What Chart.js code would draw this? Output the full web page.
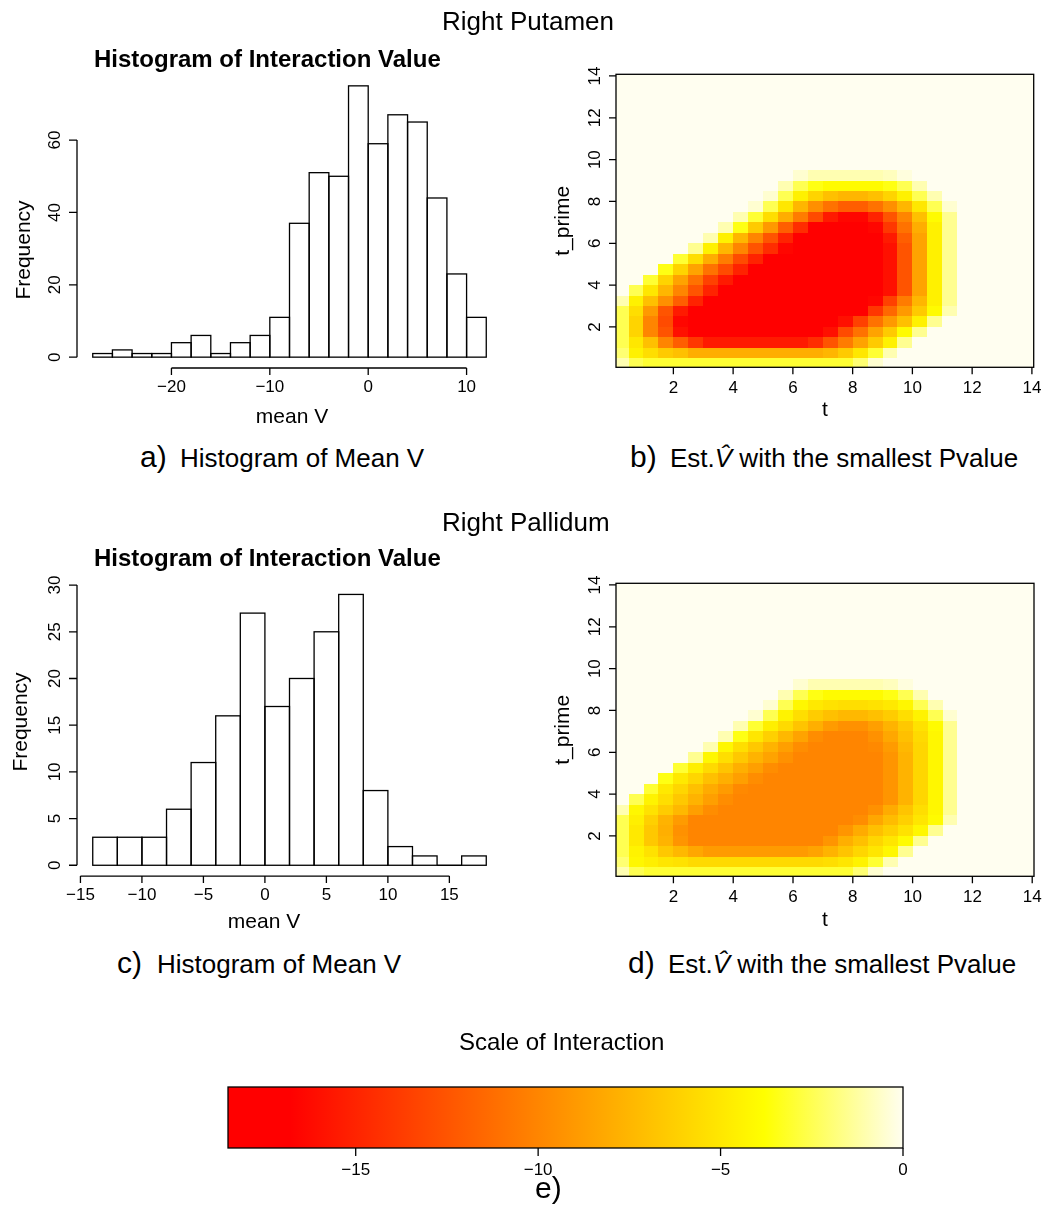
<!DOCTYPE html>
<html lang="en">
<head>
<meta charset="UTF-8" />
<title>Right Putamen / Right Pallidum</title>
<script src="https://cdn.jsdelivr.net/npm/chart.js"></script>
<style>
  body { margin: 0; background: #fff; font-family: 'Liberation Sans', Arial, sans-serif; color: #000; }
  #page { position: relative; width: 1051px; height: 1208px; overflow: hidden; background: #fff; }
  canvas { position: absolute; }
  .txt { position: absolute; white-space: nowrap; line-height: 1; }
</style>
</head>
<body>
<div id="page">
  <canvas id="histA" width="520" height="440" style="left:0;top:0"></canvas>
  <canvas id="heatB" width="531" height="440" style="left:520px;top:0"></canvas>
  <canvas id="histC" width="520" height="440" style="left:0;top:500px"></canvas>
  <canvas id="heatD" width="531" height="440" style="left:520px;top:500px"></canvas>
  <canvas id="scaleE" width="1051" height="208" style="left:0;top:1000px"></canvas>

  <div class="txt" style="left:442px;top:8px;font-size:26px">Right Putamen</div>
  <div class="txt" style="left:442px;top:509px;font-size:26px">Right Pallidum</div>

  <div class="txt" style="left:140px;top:442px;font-size:30px">a)</div>
  <div class="txt" style="left:180px;top:445px;font-size:26px">Histogram of Mean V</div>
  <div class="txt" style="left:630px;top:442px;font-size:30px">b)</div>
  <div class="txt" style="left:670px;top:445px;font-size:26px">Est.<i>V&#770;</i> with the smallest Pvalue</div>

  <div class="txt" style="left:117px;top:948px;font-size:30px">c)</div>
  <div class="txt" style="left:157px;top:951px;font-size:26px">Histogram of Mean V</div>
  <div class="txt" style="left:628px;top:948px;font-size:30px">d)</div>
  <div class="txt" style="left:668px;top:951px;font-size:26px">Est.<i>V&#770;</i> with the smallest Pvalue</div>

  <div class="txt" style="left:459px;top:1030px;font-size:24px">Scale of Interaction</div>
  <div class="txt" style="left:535px;top:1173px;font-size:30px">e)</div>
</div>

<script>
  // Right Putamen histogram (bin edges and counts)
  const breaksA = [-28, -26, -24, -22, -20, -18, -16, -14, -12, -10, -8, -6, -4, -2, 0, 2, 4, 6, 8, 10, 12];
  const countsA = [1, 2, 1, 1, 4, 6, 1, 4, 6, 11, 37, 51, 50, 75, 59, 67, 65, 44, 23, 11];
  const xTicksA = [-20, -10, 0, 10];
  const yTicksA = [0, 20, 40, 60];

  // Right Pallidum histogram
  const breaksC = [-14, -12, -10, -8, -6, -4, -2, 0, 2, 4, 6, 8, 10, 12, 14, 16, 18];
  const countsC = [3, 3, 3, 6, 11, 16, 27, 17, 20, 25, 29, 8, 2, 1, 0, 1];
  const xTicksC = [-15, -10, -5, 0, 5, 10, 15];
  const yTicksC = [0, 5, 10, 15, 20, 25, 30];

  // estimated V-hat surfaces, 0.5 x 0.5 cells, rows from t_prime = 0 upwards, columns from t = 0
  const heatTicks = [2, 4, 6, 8, 10, 12, 14];
  const cellSize = 0.5;
  const heatB = [
    [-1,-2.5,-3,-3,-3,-3,-3,-3,-3,-3,-3,-3,-3,-3,-3,-3,-2,-0.5,0,0,0,0,0,0],
    [-2,-4.5,-5.5,-6.5,-7,-8,-8,-8,-8,-8,-8,-8,-8,-8,-7.5,-6.5,-5,-3,-1,0,0,0,0,0],
    [-2.5,-5,-7,-10,-12,-14,-15.5,-15.5,-15.5,-15.5,-15.5,-15.5,-15.5,-14.5,-12.5,-10.5,-8.5,-6.5,-4.5,-1.5,0,0,0,0],
    [-2.5,-6,-10,-12.5,-16,-18,-18,-18,-18,-18,-18,-18,-18,-18,-16,-13,-11,-8.5,-6.5,-4,-1.5,0,0,0],
    [-2.5,-6,-10,-13,-16.5,-18,-18,-18,-18,-18,-18,-18,-18,-18,-18,-16,-13.5,-11,-9,-7,-4.5,-1.5,0,0],
    [-2.5,-5.5,-9,-12.5,-15.5,-18,-18,-18,-18,-18,-18,-18,-18,-18,-18,-18,-17,-14,-11.5,-9,-6.5,-4,-1,0],
    [-1,-4.5,-7,-9.5,-12,-15,-17,-18,-18,-18,-18,-18,-18,-18,-18,-18,-18,-16.5,-13.5,-10.5,-7.5,-4.5,-1.5,0],
    [0,-2.5,-5,-7.5,-10,-12.5,-15,-17,-18,-18,-18,-18,-18,-18,-18,-18,-18,-18,-16,-12.5,-8.5,-4.5,-1.5,0],
    [0,0,-3,-6,-8.5,-11,-13.5,-15.5,-17.5,-18,-18,-18,-18,-18,-18,-18,-18,-18,-16,-12.5,-8.5,-4.5,-1.5,0],
    [0,0,0,-3.5,-6,-8.5,-11,-13,-15,-17,-18,-18,-18,-18,-18,-18,-18,-18,-16,-12.5,-8.5,-4.5,-1.5,0],
    [0,0,0,0,-3,-5.5,-8,-10.5,-13,-15,-17,-18,-18,-18,-18,-18,-18,-18,-16,-12.5,-8.5,-4.5,-1.5,0],
    [0,0,0,0,0,-1.5,-4.5,-7.5,-10,-12.5,-14.5,-16.5,-18,-18,-18,-18,-18,-18,-16,-12.5,-8.5,-4.5,-1.5,0],
    [0,0,0,0,0,0,-1,-4.5,-7.5,-10,-12.5,-15,-17,-18,-18,-18,-18,-17.5,-15.5,-12,-8.5,-4.5,-1.5,0],
    [0,0,0,0,0,0,0,-1,-3.5,-6.5,-9,-12,-14.5,-17,-18,-18,-18,-16.5,-14,-11,-8,-4.5,-1.5,0],
    [0,0,0,0,0,0,0,0,-1,-3,-5.5,-8,-10.5,-13,-15.5,-16.5,-16.5,-15,-12.5,-10,-7,-4,-1.5,0],
    [0,0,0,0,0,0,0,0,0,-0.5,-2.5,-5,-7.5,-9.5,-11,-12,-12,-11,-9.5,-7.5,-5,-2.5,-0.5,0],
    [0,0,0,0,0,0,0,0,0,0,-0.5,-2.5,-4.5,-6,-7,-7.5,-7.5,-7,-6,-4.5,-2.5,-1,0,0],
    [0,0,0,0,0,0,0,0,0,0,0,-1,-2.5,-3.5,-4,-4,-4,-4,-3.5,-2.5,-1,0,0,0],
    [0,0,0,0,0,0,0,0,0,0,0,0,-0.5,-1,-1,-1,-1,-1,-0.8,-0.3,0,0,0,0]
  ];
  const heatD = [
    [-1,-2.5,-3,-3,-3,-3,-3,-3,-3,-3,-3,-3,-3,-3,-3,-3,-2,-0.5,0,0,0,0,0,0],
    [-2,-4.2,-4.6,-5.1,-5.3,-5.7,-5.7,-5.7,-5.7,-5.7,-5.7,-5.7,-5.7,-5.7,-5.5,-5.1,-4.4,-3,-1,0,0,0,0,0],
    [-2.5,-4.4,-5.3,-6.6,-7.4,-8.3,-8.9,-8.9,-8.9,-8.9,-8.9,-8.9,-8.9,-8.5,-7.7,-6.8,-5.9,-5.1,-4.2,-1.5,0,0,0,0],
    [-2.5,-4.9,-6.6,-7.7,-9.2,-10,-10,-10,-10,-10,-10,-10,-10,-10,-9.2,-7.9,-7,-5.9,-5.1,-4,-1.5,0,0,0],
    [-2.5,-4.9,-6.6,-7.9,-9.4,-10,-10,-10,-10,-10,-10,-10,-10,-10,-10,-9.2,-8.1,-7,-6.2,-5.3,-4.2,-1.5,0,0],
    [-2.5,-4.6,-6.2,-7.7,-8.9,-10,-10,-10,-10,-10,-10,-10,-10,-10,-10,-10,-9.6,-8.3,-7.2,-6.2,-5.1,-4,-1,0],
    [-1,-4.2,-5.3,-6.4,-7.4,-8.7,-9.6,-10,-10,-10,-10,-10,-10,-10,-10,-10,-10,-9.4,-8.1,-6.8,-5.5,-4.2,-1.5,0],
    [0,-2.5,-4.4,-5.5,-6.6,-7.7,-8.7,-9.6,-10,-10,-10,-10,-10,-10,-10,-10,-10,-10,-9.2,-7.7,-5.9,-4.2,-1.5,0],
    [0,0,-3,-4.9,-5.9,-7,-8.1,-8.9,-9.8,-10,-10,-10,-10,-10,-10,-10,-10,-10,-9.2,-7.7,-5.9,-4.2,-1.5,0],
    [0,0,0,-3.5,-4.9,-5.9,-7,-7.9,-8.7,-9.6,-10,-10,-10,-10,-10,-10,-10,-10,-9.2,-7.7,-5.9,-4.2,-1.5,0],
    [0,0,0,0,-3,-4.6,-5.7,-6.8,-7.9,-8.7,-9.6,-10,-10,-10,-10,-10,-10,-10,-9.2,-7.7,-5.9,-4.2,-1.5,0],
    [0,0,0,0,0,-1.5,-4.2,-5.5,-6.6,-7.7,-8.5,-9.4,-10,-10,-10,-10,-10,-10,-9.2,-7.7,-5.9,-4.2,-1.5,0],
    [0,0,0,0,0,0,-1,-4.2,-5.5,-6.6,-7.7,-8.7,-9.6,-10,-10,-10,-10,-9.8,-8.9,-7.4,-5.9,-4.2,-1.5,0],
    [0,0,0,0,0,0,0,-1,-3.5,-5.1,-6.2,-7.4,-8.5,-9.6,-10,-10,-10,-9.4,-8.3,-7,-5.7,-4.2,-1.5,0],
    [0,0,0,0,0,0,0,0,-1,-3,-4.6,-5.7,-6.8,-7.9,-8.9,-9.4,-9.4,-8.7,-7.7,-6.6,-5.3,-4,-1.5,0],
    [0,0,0,0,0,0,0,0,0,-0.5,-2.5,-4.4,-5.5,-6.4,-7,-7.4,-7.4,-7,-6.4,-5.5,-4.4,-2.5,-0.5,0],
    [0,0,0,0,0,0,0,0,0,0,-0.5,-2.5,-4.2,-4.9,-5.3,-5.5,-5.5,-5.3,-4.9,-4.2,-2.5,-1,0,0],
    [0,0,0,0,0,0,0,0,0,0,0,-1,-2.5,-3.5,-4,-4,-4,-4,-3.5,-2.5,-1,0,0,0],
    [0,0,0,0,0,0,0,0,0,0,0,0,-0.5,-1,-1,-1,-1,-1,-0.8,-0.3,0,0,0,0]
  ];

  // colour scale
  const scaleRange = [-18.5, 0];
  const scaleTicks = [-15, -10, -5, 0];
  const paletteStops = [[-16.8, [255, 0, 0]], [-3.8, [255, 255, 0]], [0, [255, 254, 240]]];

  const FONT = '"Liberation Sans", Arial, sans-serif';

  function rgb(c) { return 'rgb(' + c.map(Math.round).join(',') + ')'; }
  function heatColor(v) {
    const s = paletteStops;
    if (v <= s[0][0]) return rgb(s[0][1]);
    for (let k = 1; k < s.length; k++) {
      if (v <= s[k][0]) {
        const f = (v - s[k - 1][0]) / (s[k][0] - s[k - 1][0]);
        const a = s[k - 1][1], b = s[k][1];
        return rgb(a.map((c, i) => c + (b[i] - c) * f));
      }
    }
    return rgb(s[s.length - 1][1]);
  }
  const fmt = v => (v < 0 ? '\u2212' + Math.abs(v) : String(v));
  const setTicks = list => s => { s.ticks = list.map(v => ({ value: v })); };

  function rotText(ctx, text, x, y) {
    ctx.save(); ctx.translate(x, y); ctx.rotate(-Math.PI / 2); ctx.fillText(text, 0, 0); ctx.restore();
  }

  // R-like axes for the histograms
  function histPlugin(cfg) {
    return {
      id: 'histAxes',
      afterDatasetsDraw(chart) {
        const { ctx } = chart;
        ctx.save();
        ctx.strokeStyle = '#000'; ctx.lineWidth = 1.3;
        chart.getDatasetMeta(0).data.forEach(el => {
          const p = el.getProps(['x', 'y', 'base', 'width'], true);
          ctx.strokeRect(p.x - p.width / 2, p.y, p.width, p.base - p.y);
        });
        ctx.restore();
      },
      afterDraw(chart) {
        const { ctx, chartArea: a, scales: { x, y } } = chart;
        ctx.save();
        ctx.strokeStyle = '#000'; ctx.fillStyle = '#000'; ctx.lineWidth = 1.3;
        const xt = x.ticks.map(t => t.value), yt = y.ticks.map(t => t.value);
        ctx.beginPath();
        ctx.moveTo(x.getPixelForValue(xt[0]), a.bottom);
        ctx.lineTo(x.getPixelForValue(xt[xt.length - 1]), a.bottom);
        xt.forEach(v => { const p = x.getPixelForValue(v); ctx.moveTo(p, a.bottom); ctx.lineTo(p, a.bottom + 7); });
        ctx.moveTo(a.left, y.getPixelForValue(yt[0]));
        ctx.lineTo(a.left, y.getPixelForValue(yt[yt.length - 1]));
        yt.forEach(v => { const p = y.getPixelForValue(v); ctx.moveTo(a.left, p); ctx.lineTo(a.left - 8, p); });
        ctx.stroke();
        ctx.font = '17px ' + FONT; ctx.textAlign = 'center'; ctx.textBaseline = 'middle';
        xt.forEach(v => ctx.fillText(fmt(v), x.getPixelForValue(v), a.bottom + 19));
        yt.forEach(v => rotText(ctx, fmt(v), a.left - 22, y.getPixelForValue(v)));
        ctx.font = '21px ' + FONT;
        ctx.fillText('mean V', cfg.xlab[0], cfg.xlab[1]);
        rotText(ctx, 'Frequency', cfg.ylab[0], cfg.ylab[1]);
        ctx.font = 'bold 24px ' + FONT; ctx.textAlign = 'left';
        ctx.fillText('Histogram of Interaction Value', cfg.title[0], cfg.title[1]);
        ctx.restore();
      }
    };
  }

  function histChart(id, breaks, counts, xr, yr, xTicks, yTicks, pad, cfg) {
    const bars = counts.map((c, i) => ({ x: (breaks[i] + breaks[i + 1]) / 2, y: c }));
    return new Chart(document.getElementById(id), {
      type: 'bar',
      data: { datasets: [{ data: bars, backgroundColor: '#fff', borderWidth: 0, barPercentage: 1, categoryPercentage: 1 }] },
      options: {
        responsive: false, animation: false, devicePixelRatio: 1,
        layout: { padding: pad },
        plugins: { legend: { display: false }, tooltip: { enabled: false } },
        scales: {
          x: { type: 'linear', offset: false, min: xr[0], max: xr[1], display: false, afterBuildTicks: setTicks(xTicks) },
          y: { type: 'linear', min: yr[0], max: yr[1], display: false, afterBuildTicks: setTicks(yTicks) }
        }
      },
      plugins: [histPlugin(cfg)]
    });
  }

  // heat maps
  function heatPlugin(grid, cfg) {
    return {
      id: 'heatCells',
      beforeDatasetsDraw(chart) {
        const { ctx, chartArea: a, scales: { x, y } } = chart;
        ctx.save();
        ctx.beginPath(); ctx.rect(a.left, a.top, a.right - a.left, a.bottom - a.top); ctx.clip();
        ctx.fillStyle = heatColor(0);
        ctx.fillRect(a.left, a.top, a.right - a.left, a.bottom - a.top);
        grid.forEach((row, j) => row.forEach((v, i) => {
          if (v === 0) return;
          const x0 = Math.round(x.getPixelForValue(i * cellSize)), x1 = Math.round(x.getPixelForValue((i + 1) * cellSize));
          const y0 = Math.round(y.getPixelForValue((j + 1) * cellSize)), y1 = Math.round(y.getPixelForValue(j * cellSize));
          ctx.fillStyle = heatColor(v);
          ctx.fillRect(x0, y0, x1 - x0, y1 - y0);
        }));
        ctx.restore();
      },
      afterDraw(chart) {
        const { ctx, chartArea: a, scales: { x, y } } = chart;
        ctx.save();
        ctx.strokeStyle = '#000'; ctx.fillStyle = '#000'; ctx.lineWidth = 1.3;
        ctx.strokeRect(a.left, a.top, a.right - a.left, a.bottom - a.top);
        ctx.beginPath();
        x.ticks.forEach(t => { const p = x.getPixelForValue(t.value); ctx.moveTo(p, a.bottom); ctx.lineTo(p, a.bottom + 7); });
        y.ticks.forEach(t => { const p = y.getPixelForValue(t.value); ctx.moveTo(a.left, p); ctx.lineTo(a.left - 7, p); });
        ctx.stroke();
        ctx.font = '17px ' + FONT; ctx.textAlign = 'center'; ctx.textBaseline = 'middle';
        x.ticks.forEach(t => ctx.fillText(fmt(t.value), x.getPixelForValue(t.value), a.bottom + 21));
        y.ticks.forEach(t => rotText(ctx, fmt(t.value), a.left - 21, y.getPixelForValue(t.value)));
        ctx.font = '21px ' + FONT;
        ctx.fillText('t', (a.left + a.right) / 2, a.bottom + cfg.tOff);
        rotText(ctx, 't_prime', a.left - 53, (a.top + a.bottom) / 2);
        ctx.restore();
      }
    };
  }

  function heatChart(id, grid, pad, cfg) {
    return new Chart(document.getElementById(id), {
      type: 'scatter',
      data: { datasets: [{ data: [], pointRadius: 0 }] },
      options: {
        responsive: false, animation: false, devicePixelRatio: 1,
        layout: { padding: pad },
        plugins: { legend: { display: false }, tooltip: { enabled: false } },
        scales: {
          x: { type: 'linear', min: 0.08, max: 14.06, display: false, afterBuildTicks: setTicks(heatTicks) },
          y: { type: 'linear', min: 0.07, max: 14.08, display: false, afterBuildTicks: setTicks(heatTicks) }
        }
      },
      plugins: [heatPlugin(grid, cfg)]
    });
  }

  histChart('histA', breaksA, countsA, [-29.6, 13.6], [-3, 78], xTicksA, yTicksA,
    { left: 77, top: 75, right: 18, bottom: 72 },
    { xlab: [292, 417], ylab: [24, 250], title: [94, 60] });
  histChart('histC', breaksC, countsC, [-15.28, 19.28], [-1.16, 30.16], xTicksC, yTicksC,
    { left: 77, top: 83.6, right: 18, bottom: 63.9 },
    { xlab: [264, 422], ylab: [21, 222], title: [94, 59] });

  heatChart('heatB', heatB, { left: 96, top: 74.3, right: 17.3, bottom: 72.7 }, { tOff: 43 });
  heatChart('heatD', heatD, { left: 96, top: 83.3, right: 17, bottom: 63.7 }, { tOff: 44 });

  // colour key
  new Chart(document.getElementById('scaleE'), {
    type: 'scatter',
    data: { datasets: [{ data: [], pointRadius: 0 }] },
    options: {
      responsive: false, animation: false, devicePixelRatio: 1,
      layout: { padding: { left: 228, right: 148, top: 87, bottom: 60 } },
      plugins: { legend: { display: false }, tooltip: { enabled: false } },
      scales: {
        x: { type: 'linear', min: scaleRange[0], max: scaleRange[1], display: false, afterBuildTicks: setTicks(scaleTicks) },
        y: { type: 'linear', min: 0, max: 1, display: false }
      }
    },
    plugins: [{
      id: 'colourKey',
      afterDraw(chart) {
        const { ctx, chartArea: a, scales: { x } } = chart;
        const x0 = x.getPixelForValue(scaleRange[0]), x1 = x.getPixelForValue(scaleRange[1]);
        const g = ctx.createLinearGradient(x0, 0, x1, 0);
        g.addColorStop(0, rgb(paletteStops[0][1]));
        paletteStops.forEach(([v, c]) => g.addColorStop((v - scaleRange[0]) / (scaleRange[1] - scaleRange[0]), rgb(c)));
        ctx.save();
        ctx.fillStyle = g;
        ctx.fillRect(x0, a.top, x1 - x0, a.bottom - a.top);
        ctx.strokeStyle = '#000'; ctx.lineWidth = 1.3;
        ctx.strokeRect(x0, a.top, x1 - x0, a.bottom - a.top);
        ctx.beginPath();
        x.ticks.forEach(t => { const p = x.getPixelForValue(t.value); ctx.moveTo(p, a.bottom); ctx.lineTo(p, a.bottom + 8); });
        ctx.stroke();
        ctx.fillStyle = '#000'; ctx.font = '17px ' + FONT; ctx.textAlign = 'center'; ctx.textBaseline = 'middle';
        x.ticks.forEach(t => ctx.fillText(fmt(t.value), x.getPixelForValue(t.value), a.bottom + 22));
        ctx.restore();
      }
    }]
  });
</script>
</body>
</html>
